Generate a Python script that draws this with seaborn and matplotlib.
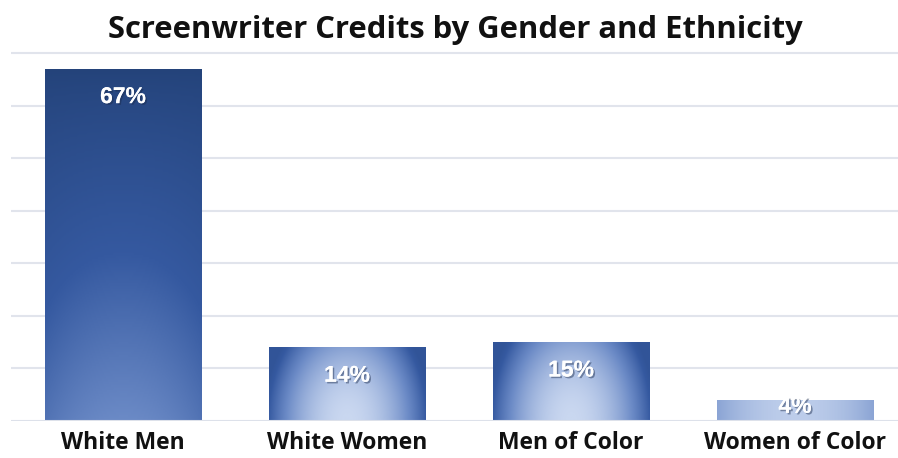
import numpy as np
import pandas as pd
import seaborn as sns
import matplotlib.pyplot as plt
import matplotlib.patheffects as pe
from matplotlib.colors import LinearSegmentedColormap

# chart data
groups = ["White Men", "White Women", "Men of Color", "Women of Color"]
shares = [67, 14, 15, 4]
value_labels = ["67%", "14%", "15%", "4%"]

# fill style per bar (Excel style gradients)
fill_kinds = ["linear", "radial", "radial", "flat"]

df = pd.DataFrame({"group": groups, "share": shares})

sns.set_theme(style="white")
plt.rcParams["font.family"] = ["Open Sans", "DejaVu Sans"]

fig = plt.figure(figsize=(8.98, 4.58), dpi=100)
ax = fig.add_axes([0.01225, 0.0808, 0.9878, 0.815])

sns.barplot(data=df, x="group", y="share", ax=ax, width=0.7, color="#3558a0", zorder=2)

ax.set_ylim(0, 71)
ax.set_xlim(-0.5, 3.46)
ax.set_yticks(range(10, 71, 10))
ax.yaxis.grid(True, color="#e1e4ec", linewidth=1.5, zorder=0)
ax.set_axisbelow(True)
ax.set_ylabel("")
ax.set_xlabel("")
ax.set_yticklabels([])
ax.tick_params(axis="both", length=0)
ax.tick_params(axis="x", pad=7)
for lab in ax.get_xticklabels():
    lab.set_fontsize(16.5)
    lab.set_fontweight("bold")
    lab.set_color("#111111")
sns.despine(ax=ax, left=True, bottom=True, top=True, right=True)

cmap = LinearSegmentedColormap.from_list(
    "bars", [(0.0, "#24437a"), (0.37, "#3559a0"), (0.62, "#6b8ac6"), (1.0, "#c9d7f0")]
)


def gradient(kind, n=160):
    u = np.linspace(-1, 1, n)[None, :]
    v = np.linspace(1, 0, n)[:, None]  # row 0 = top of bar
    if kind == "linear":
        L = (0.62 - 0.12 * u**2) * (1 - v) ** 0.8
    elif kind == "radial":
        d2 = (0.95 * u) ** 2 + (v / 1.6) ** 2
        L = np.maximum(1 - 0.68 * d2, 0.3)
    else:
        L = 0.95 - 0.2 * u**2 + 0 * v
    return L


for patch, kind in zip(ax.patches, fill_kinds):
    x0, y0 = patch.get_x(), patch.get_y()
    w, h = patch.get_width(), patch.get_height()
    img = ax.imshow(
        gradient(kind), cmap=cmap, vmin=0, vmax=1, aspect="auto",
        extent=(x0, x0 + w, y0, y0 + h), zorder=2, interpolation="bilinear",
    )
    img.set_clip_path(patch)
    patch.set_facecolor("none")
    patch.set_edgecolor("none")

ax.set_xlim(-0.5, 3.46)
ax.set_ylim(0, 71)
ax.axhline(0, color="#dde1ea", linewidth=1.5, zorder=4)

shadow = [pe.withSimplePatchShadow(offset=(1.2, -1.2), shadow_rgbFace="#1a2a4a", alpha=0.45), pe.Normal()]
for patch, text in zip(ax.patches, value_labels):
    h = patch.get_height()
    off = min(5.3, h / 2 - 0.8)
    ax.text(
        patch.get_x() + patch.get_width() / 2, h - off, text,
        ha="center", va="center", color="white", fontsize=16.5, fontweight="bold",
        family=["Liberation Sans", "DejaVu Sans"], zorder=5, path_effects=shadow,
    )

fig.text(0.507, 0.934, "Screenwriter Credits by Gender and Ethnicity",
         ha="center", va="center", fontsize=22.3, fontweight="bold", color="#111111")

fig.savefig("out.png", dpi=100)
